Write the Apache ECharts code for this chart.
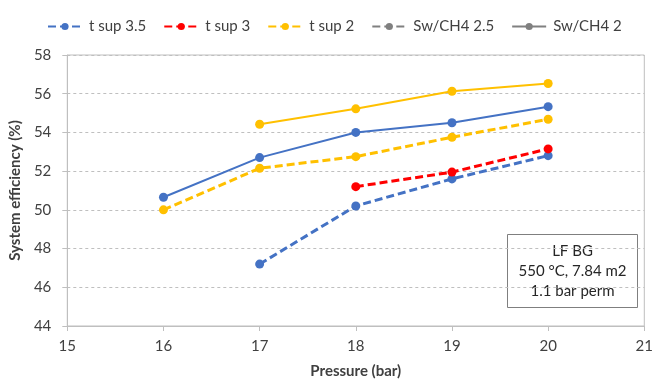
<!DOCTYPE html>
<html>
<head>
<meta charset="utf-8">
<script src="https://cdn.jsdelivr.net/npm/echarts@6/dist/echarts.min.js"></script>
<style>
  html, body { margin: 0; padding: 0; background: #fff; }
  #chart { width: 656px; height: 384px; }
</style>
</head>
<body>
<div id="chart"></div>
<script>
// pressure values (bar) on the x axis
const pressure = [16, 17, 18, 19, 20];

// Sw/CH4 2.5 (dashed)
const tsup35Dashed = [null, 47.2, 50.2, 51.6, 52.8];
const tsup3Dashed = [null, null, 51.2, 51.95, 53.15];
const tsup2Dashed = [50.0, 52.15, 52.75, 53.75, 54.68];

// Sw/CH4 2 (solid)
const tsup35Solid = [50.65, 52.7, 54.0, 54.5, 55.33];
const tsup2Solid = [null, 54.42, 55.22, 56.13, 56.53];

const noteLines = ['LF BG', '550 °C, 7.84 m2', '1.1 bar perm'];

const FONT = 'Lato, "Open Sans", sans-serif';

// 把数组和压力值配对
const toPoints = vals => pressure.map((p, i) => [p, vals[i]]).filter(d => d[1] != null);

const lineSeries = (name, vals, color, dashed) => ({
  name: name,
  type: 'line',
  data: toPoints(vals),
  symbol: 'circle',
  symbolSize: 9,
  color: color,
  lineStyle: { color: color, width: dashed ? 3 : 2, type: dashed ? [8, 4] : 'solid' },
  itemStyle: { color: color },
  emphasis: { disabled: true },
  z: dashed ? 3 : 2
});

const chart = echarts.init(document.getElementById('chart'));

chart.setOption({
  animation: false,
  textStyle: { fontFamily: FONT },
  legend: {
    top: 14,
    left: 42,
    itemWidth: 34,
    itemHeight: 9,
    itemGap: 17,
    textStyle: { fontFamily: FONT, fontSize: 15, color: '#404040', padding: [0, 0, 0, 2] },
    data: ['t sup 3.5', 't sup 3', 't sup 2', 'Sw/CH4 2.5', 'Sw/CH4 2']
  },
  grid: {
    left: 66, right: 10, top: 55, bottom: 54,
    show: true, borderColor: '#bfbfbf', borderWidth: 1
  },
  xAxis: {
    type: 'value',
    min: 15, max: 21, interval: 1,
    name: 'Pressure (bar)',
    nameLocation: 'middle',
    nameGap: 38,
    nameTextStyle: { fontFamily: FONT, fontSize: 15, fontWeight: 'bold', color: '#404040' },
    axisLine: { lineStyle: { color: '#bfbfbf' } },
    axisTick: { show: true, length: 5, lineStyle: { color: '#bfbfbf' } },
    axisLabel: { fontFamily: FONT, fontSize: 15, color: '#404040', margin: 13 },
    splitLine: { show: false }
  },
  yAxis: {
    type: 'value',
    min: 44, max: 58, interval: 2,
    name: 'System efficiency (%)',
    nameLocation: 'middle',
    nameGap: 38,
    nameTextStyle: { fontFamily: FONT, fontSize: 15, fontWeight: 'bold', color: '#404040' },
    axisLine: { show: true, lineStyle: { color: '#bfbfbf' } },
    axisTick: { show: true, length: 5, lineStyle: { color: '#bfbfbf' } },
    axisLabel: { fontFamily: FONT, fontSize: 15, color: '#404040', margin: 16 },
    splitLine: { show: true, lineStyle: { color: '#bfbfbf', type: [3, 3] } }
  },
  series: [
    lineSeries('t sup 3.5', tsup35Dashed, '#4472C4', true),
    lineSeries('t sup 3', tsup3Dashed, '#FF0000', true),
    lineSeries('t sup 2', tsup2Dashed, '#FFC000', true),
    lineSeries('t sup 3.5 (Sw/CH4 2)', tsup35Solid, '#4472C4', false),
    lineSeries('t sup 2 (Sw/CH4 2)', tsup2Solid, '#FFC000', false),
    // 只用于图例
    lineSeries('Sw/CH4 2.5', [], '#808080', true),
    lineSeries('Sw/CH4 2', [], '#808080', false)
  ],
  graphic: [{
    type: 'group',
    left: 507,
    top: 234,
    children: [
      {
        type: 'rect',
        shape: { x: 0, y: 0, width: 130, height: 73 },
        style: { fill: '#fff', stroke: '#7f7f7f', lineWidth: 1 }
      },
      {
        type: 'text',
        x: 65,
        y: 37,
        style: {
          text: noteLines.join('\n'),
          fontFamily: FONT,
          fontSize: 15,
          lineHeight: 20,
          fill: '#262626',
          align: 'center',
          verticalAlign: 'middle'
        }
      }
    ]
  }]
});
</script>
</body>
</html>
